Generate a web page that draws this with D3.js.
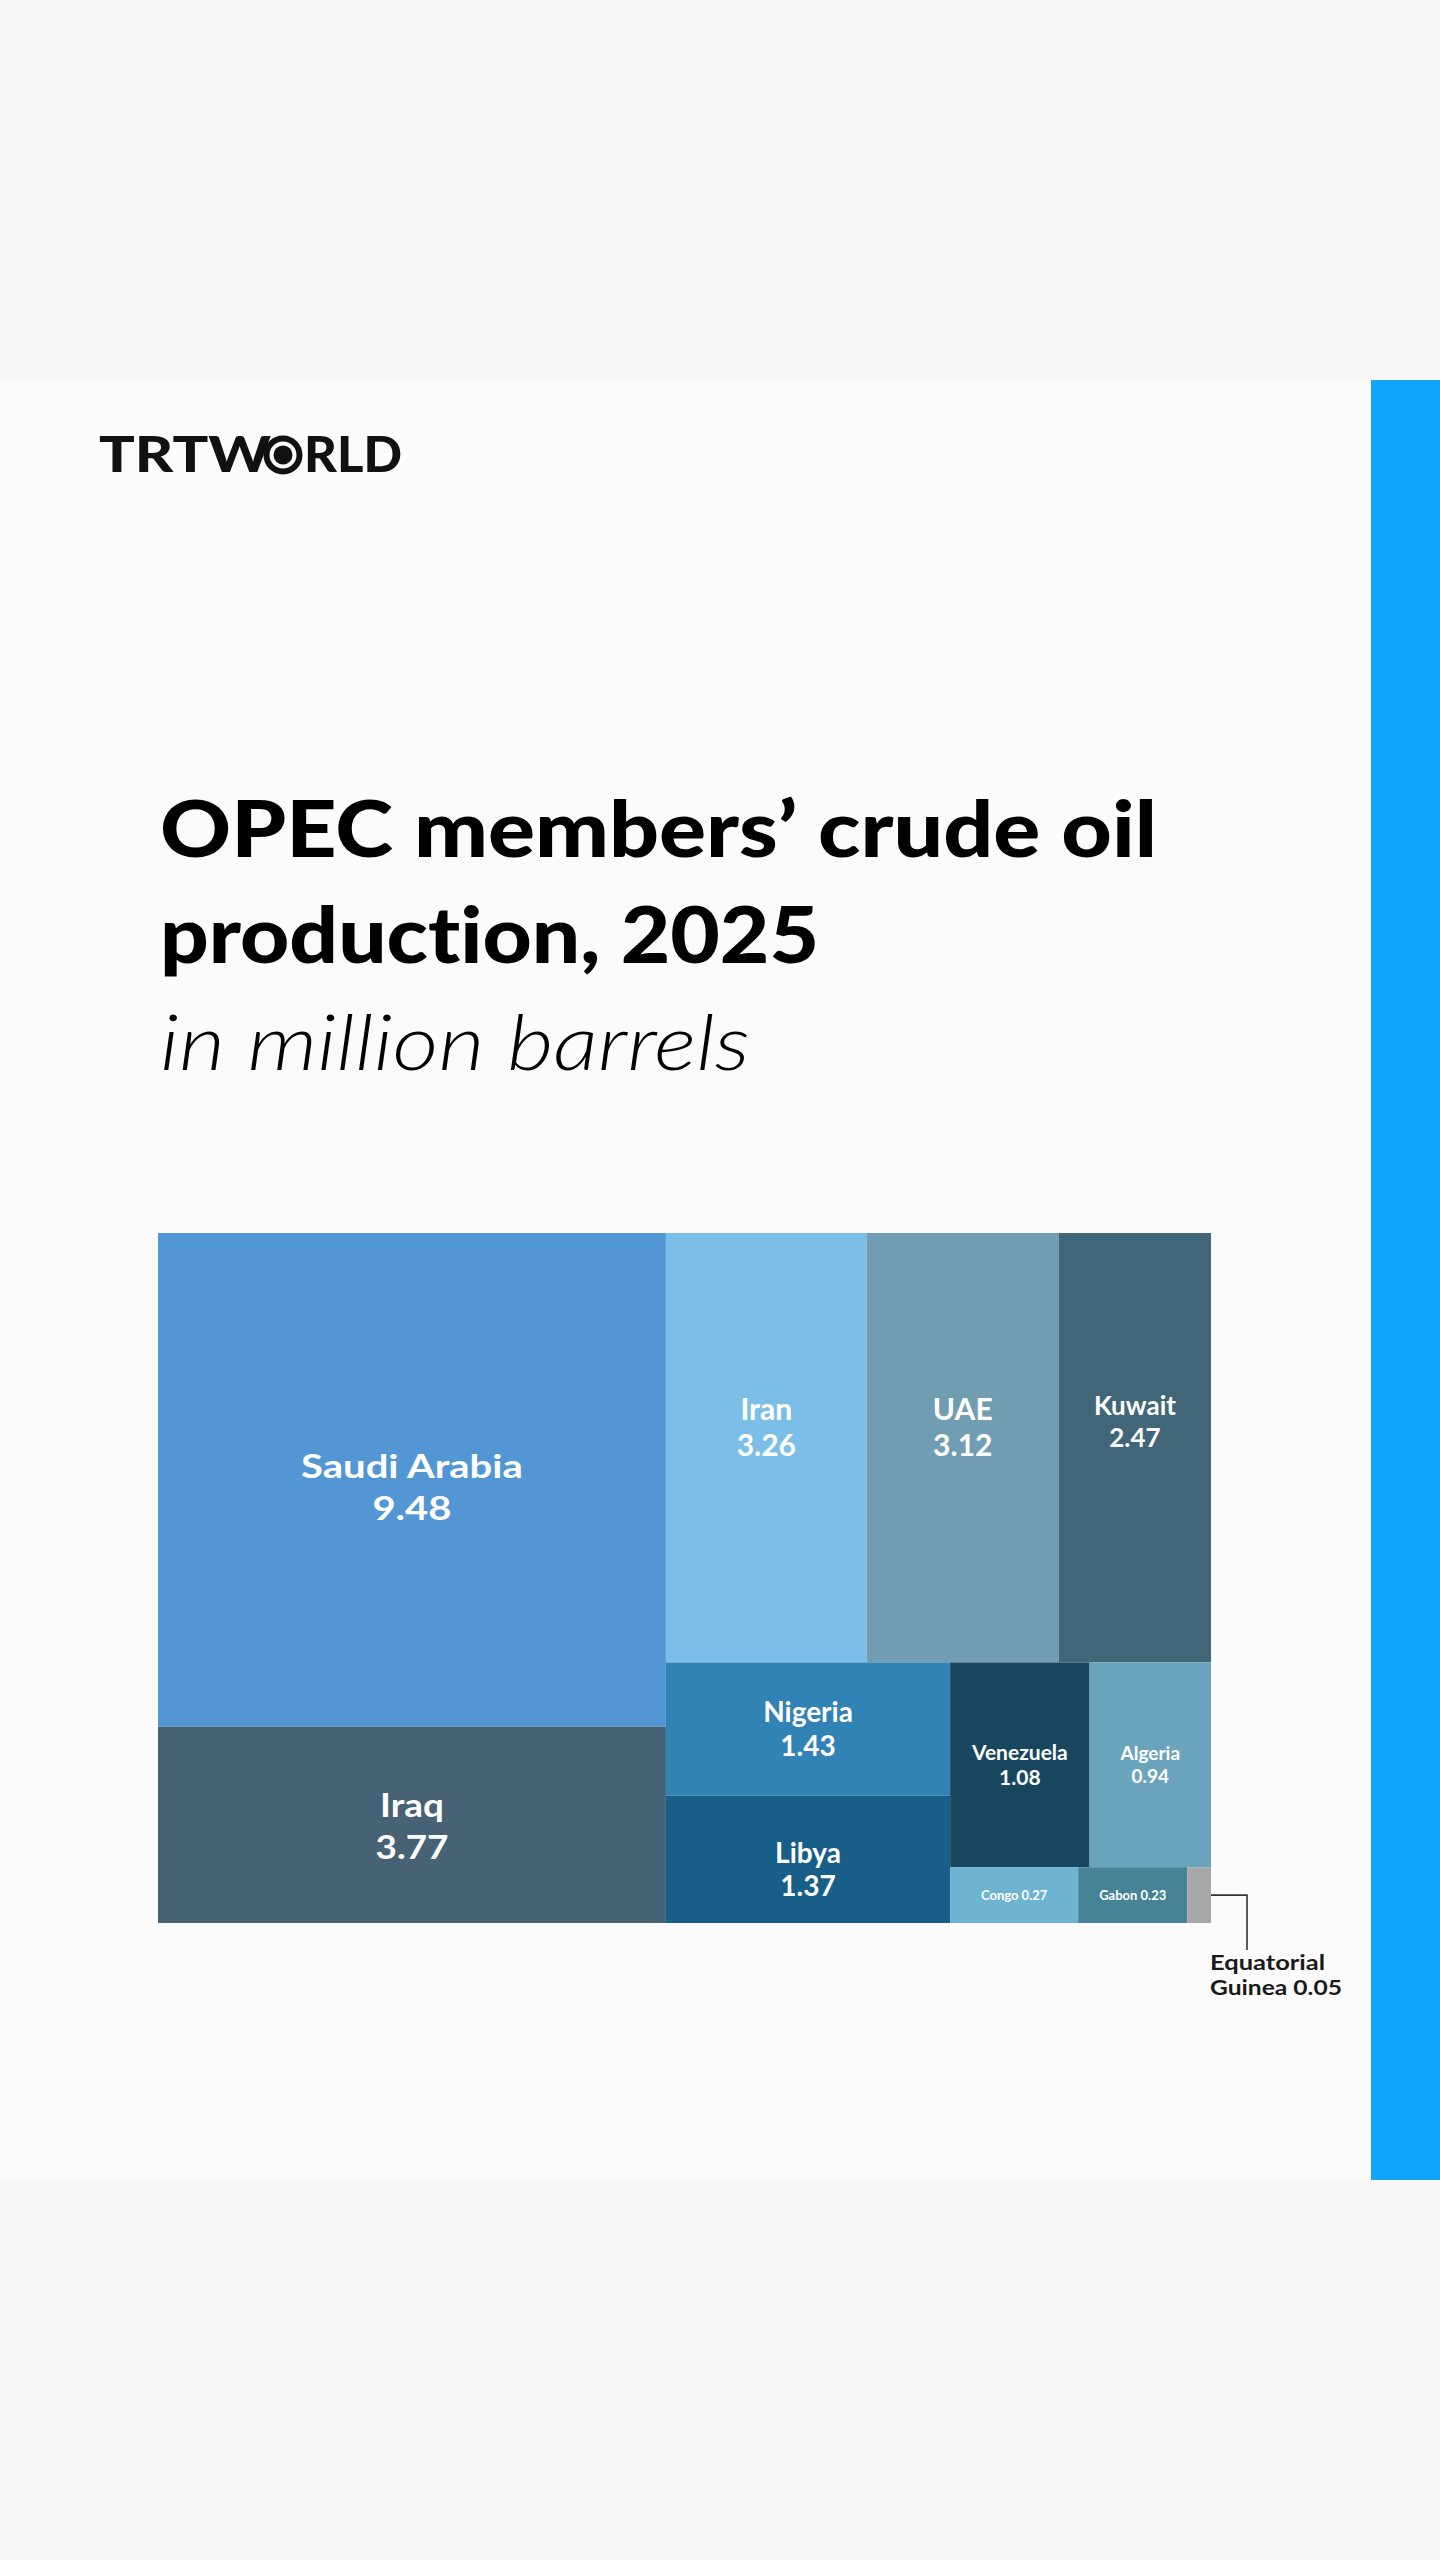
<!DOCTYPE html>
<html>
<head>
<meta charset="utf-8">
<script src="https://cdn.jsdelivr.net/npm/d3@7"></script>
<style>
  html, body { margin: 0; padding: 0; background: #f8f8f8; }
  svg { display: block; }
  text { font-variant-ligatures: none; font-feature-settings: "liga" 0; }
</style>
</head>
<body>
<svg id="chart" width="1440" height="2560"></svg>
<script>
// ---------- DATA ----------
const countries = ["Saudi Arabia", "Iraq", "Iran", "UAE", "Kuwait", "Nigeria", "Libya",
                   "Venezuela", "Algeria", "Congo", "Gabon", "Equatorial Guinea"];
const production = [9.48, 3.77, 3.26, 3.12, 2.47, 1.43, 1.37, 1.08, 0.94, 0.27, 0.23, 0.05];
// nesting of the cells (structure of the treemap)
const cellGroup = ["left", "left", "right.top", "right.top", "right.top",
                   "right.bottom.a", "right.bottom.a",
                   "right.bottom.b.upper", "right.bottom.b.upper",
                   "right.bottom.b.lower", "right.bottom.b.lower", "right.bottom.b.lower"];
const titleLines = ["OPEC members\u2019 crude oil", "production, 2025"];
const subtitle = "in million barrels";

// ---------- STYLE ----------
const colors = {
  "Saudi Arabia": "#5297d3", "Iraq": "#476275", "Iran": "#7bbfe8", "UAE": "#719db3",
  "Kuwait": "#406677", "Nigeria": "#3182b5", "Libya": "#175e88", "Venezuela": "#19465f",
  "Algeria": "#6ba4bd", "Congo": "#6fb3d3", "Gabon": "#468394", "Equatorial Guinea": "#a8a8a8"
};
const labelSize = {
  "Saudi Arabia": 32, "Iraq": 32, "Iran": 30, "UAE": 30, "Kuwait": 26, "Nigeria": 28,
  "Libya": 28, "Venezuela": 21, "Algeria": 19, "Congo": 13, "Gabon": 13
};
const labelStretch = { "Saudi Arabia": 1.25, "Iraq": 1.15 };
const labelShift = { "Saudi Arabia": 6, "Iran": -21, "UAE": -21, "Kuwait": -26, "Libya": 10 };
const singleLine = new Set(["Congo", "Gabon"]);
const FONT = "Lato, 'Open Sans', sans-serif";

const svg = d3.select("#chart");

// background card + blue bar
svg.append("rect").attr("x", 0).attr("y", 0).attr("width", 1440).attr("height", 2560).attr("fill", "#f8f8f8");
svg.append("rect").attr("x", 0).attr("y", 380).attr("width", 1371).attr("height", 1800).attr("fill", "#fbfbfb");
svg.append("rect").attr("x", 1371).attr("y", 380).attr("width", 69).attr("height", 1800).attr("fill", "#0fa4fe");

// logo
const logo = svg.append("g").attr("fill", "#111").attr("font-family", FONT)
  .attr("font-weight", 900).attr("font-size", 49);
logo.append("text").attr("x", 99).attr("y", 472)
  .attr("textLength", 172).attr("lengthAdjust", "spacingAndGlyphs").text("TRTW");
logo.append("circle").attr("cx", 283).attr("cy", 455).attr("r", 19.5).attr("fill", "#111");
logo.append("circle").attr("cx", 283).attr("cy", 455).attr("r", 13.5).attr("fill", "#fbfbfb");
logo.append("circle").attr("cx", 283).attr("cy", 455).attr("r", 9.5).attr("fill", "#111");
logo.append("text").attr("x", 304).attr("y", 472)
  .attr("textLength", 98).attr("lengthAdjust", "spacingAndGlyphs").text("RLD");

// title
const titleWidths = [997, 659];
titleLines.forEach((t, i) => {
  svg.append("text")
    .attr("x", 160).attr("y", 857 + i * 106)
    .attr("font-family", FONT).attr("font-weight", 900).attr("font-size", 79)
    .attr("textLength", titleWidths[i]).attr("lengthAdjust", "spacingAndGlyphs")
    .attr("fill", "#000")
    .text(t);
});
svg.append("text")
  .attr("x", 160).attr("y", 1070)
  .attr("font-family", FONT).attr("font-weight", 300).attr("font-style", "italic")
  .attr("font-size", 77).attr("fill", "#000")
  .attr("textLength", 590).attr("lengthAdjust", "spacingAndGlyphs")
  .text(subtitle);

// ---------- TREEMAP ----------
function buildTree() {
  const root = { name: "root", children: [] };
  countries.forEach((c, i) => {
    let node = root;
    cellGroup[i].split(".").forEach(k => {
      let ch = node.children.find(n => n.name === k);
      if (!ch) { ch = { name: k, children: [] }; node.children.push(ch); }
      node = ch;
    });
    node.children.push({ name: c, value: production[i] });
  });
  return root;
}

const X0 = 158, Y0 = 1233, W = 1053, H = 690;
const root = d3.hierarchy(buildTree()).sum(d => d.value || 0);
d3.treemap().tile(d3.treemapSliceDice).size([W, H]).paddingInner(0)(root);

const g = svg.append("g").attr("transform", `translate(${X0},${Y0})`);
const leaves = root.leaves();

g.selectAll("rect.cell").data(leaves).join("rect")
  .attr("class", "cell")
  .attr("x", d => d.x0).attr("y", d => d.y0)
  .attr("width", d => d.x1 - d.x0).attr("height", d => d.y1 - d.y0)
  .attr("fill", d => colors[d.data.name]);

const labelled = leaves.filter(d => labelSize[d.data.name]);
const lab = g.selectAll("g.lab").data(labelled).join("g").attr("class", "lab")
  .attr("font-family", FONT).attr("font-weight", 700).attr("fill", "#fff")
  .attr("text-anchor", "middle");

function stretch(t, k) {
  if (!k) return;
  const w = t.node().getComputedTextLength();
  t.attr("textLength", w * k).attr("lengthAdjust", "spacingAndGlyphs");
}

lab.each(function (d) {
  const f = labelSize[d.data.name];
  const k = labelStretch[d.data.name];
  const cx = (d.x0 + d.x1) / 2;
  const cy = (d.y0 + d.y1) / 2 + (labelShift[d.data.name] || 0);
  const gap = k ? 1.3 : 1.2;
  const sel = d3.select(this);
  if (singleLine.has(d.data.name)) {
    sel.append("text").attr("x", cx).attr("y", cy + f * 0.36).attr("font-size", f)
      .text(d.data.name + " " + d3.format(".2f")(d.data.value));
  } else {
    const t1 = sel.append("text").attr("x", cx).attr("y", cy - 0.24 * f).attr("font-size", f)
      .text(d.data.name);
    const t2 = sel.append("text").attr("x", cx).attr("y", cy + (gap - 0.24) * f).attr("font-size", f)
      .text(d3.format(".2f")(d.data.value));
    stretch(t1, k); stretch(t2, k);
  }
});

// Equatorial Guinea callout
const eq = leaves.find(d => d.data.name === "Equatorial Guinea");
const ex = X0 + eq.x1, ey = Y0 + (eq.y0 + eq.y1) / 2;
svg.append("path")
  .attr("d", `M${ex},${ey}H${ex + 36}V${ey + 55}`)
  .attr("fill", "none").attr("stroke", "#333").attr("stroke-width", 1.6);
const eqLab = svg.append("g").attr("font-family", FONT).attr("font-weight", 700)
  .attr("font-size", 21).attr("fill", "#1a1a1a");
eqLab.append("text").attr("x", ex - 1).attr("y", ey + 75)
  .attr("textLength", 115).attr("lengthAdjust", "spacingAndGlyphs").text("Equatorial");
eqLab.append("text").attr("x", ex - 1).attr("y", ey + 100)
  .attr("textLength", 132).attr("lengthAdjust", "spacingAndGlyphs")
  .text("Guinea " + d3.format(".2f")(eq.data.value));
</script>
</body>
</html>
